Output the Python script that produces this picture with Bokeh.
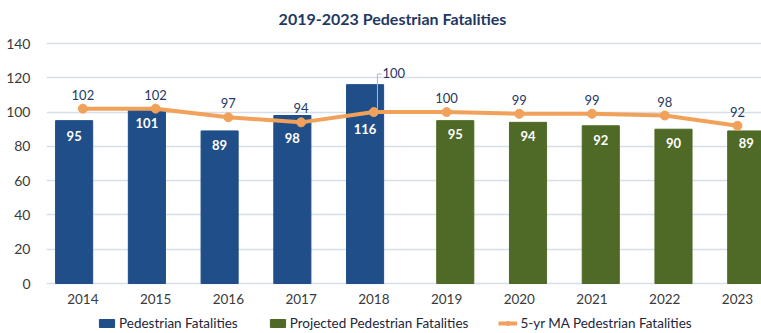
from bokeh.plotting import figure
from bokeh.models import (ColumnDataSource, Range1d, LabelSet, Legend, LegendItem,
                          FixedTicker, Label)
from bokeh.transform import dodge
from bokeh.embed import file_html
from bokeh.resources import INLINE
from bokeh.core.properties import value

# ---- data ----
years = ["2014", "2015", "2016", "2017", "2018", "2019", "2020", "2021", "2022", "2023"]
actual_years = ["2014", "2015", "2016", "2017", "2018"]
actual = [95, 101, 89, 98, 116]
projected_years = ["2019", "2020", "2021", "2022", "2023"]
projected = [95, 94, 92, 90, 89]
ma5 = [102, 102, 97, 94, 100, 100, 99, 99, 98, 92]
y_ticks = [0, 20, 40, 60, 80, 100, 120, 140]
title_text = "2019-2023 Pedestrian Fatalities"

# ---- styles ----
BLUE = "#1F4E88"
GREEN = "#4F6A26"
ORANGE = "#F2A15B"
NAVY = "#1F3864"
GRID = "#D5DEE9"
TICK = "#3A3A3A"
FONT = "Lato"
actual_label_drop = [-15, -13, -14, -22, -44]
proj_label_drop = [-13, -14, -14, -14, -12]

idx = {y: i for i, y in enumerate(years)}
ma_x = [idx[y] for y in years]

src_a = ColumnDataSource(dict(x=[idx[y] for y in actual_years], v=actual,
                              t=[str(v) for v in actual], off=actual_label_drop))
src_p = ColumnDataSource(dict(x=[idx[y] for y in projected_years], v=projected,
                              t=[str(v) for v in projected], off=proj_label_drop))
src_m = ColumnDataSource(dict(x=ma_x, v=ma5, t=[str(v) for v in ma5]))
i18 = idx["2018"]
src_ml = ColumnDataSource(dict(x=[x for x in ma_x if x != i18],
                               v=[v for x, v in zip(ma_x, ma5) if x != i18],
                               t=[str(v) for x, v in zip(ma_x, ma5) if x != i18]))
src_years = ColumnDataSource(dict(x=ma_x, y=[0] * len(years), t=years))

# frame: x from 46 to 761 px, y covers the whole height (title on top, year labels + legend below)
px_per_unit = 240 / 140
x_start, x_end = -0.5, 9.33
px_per_x = (761 - 46) / (x_end - x_start)
y_top = 140 + 43 / px_per_unit
p = figure(width=761, height=333, output_backend="svg", toolbar_location=None,
           x_range=Range1d(x_start, x_end), y_range=Range1d(-50 / px_per_unit, y_top),
           min_border_left=46, min_border_right=0, min_border_top=0, min_border_bottom=0)
p.outline_line_color = None
p.background_fill_color = "white"
p.border_fill_color = "white"

# axes
p.xaxis.visible = False
p.yaxis.ticker = FixedTicker(ticks=y_ticks)
ax = p.yaxis[0]
ax.axis_line_color = None
ax.major_tick_line_color = None
ax.minor_tick_line_color = None
ax.major_label_text_font = FONT
ax.major_label_text_font_size = "14px"
ax.major_label_text_color = TICK
ax.major_label_standoff = 10
p.xgrid.grid_line_color = None
p.ygrid.grid_line_color = GRID
p.ygrid.grid_line_width = 1.6

bw = 0.51
r_a = p.vbar(x=dodge("x", -0.12), top="v", width=bw, source=src_a, color=BLUE)
r_p = p.vbar(x=dodge("x", 0.12), top="v", width=bw, source=src_p, color=GREEN)

# leader line for 2018 moving-average label
m18 = ma5[i18]
lead_top = m18 + 38 / px_per_unit
p.segment(x0=[i18 + 0.05, i18 + 0.05], y0=[m18 + 1, lead_top],
          x1=[i18 + 0.05, i18 + 0.11], y1=[lead_top, lead_top],
          line_color="#A9BBCF", line_width=1)

r_l = p.line(x="x", y="v", source=src_m, line_color=ORANGE, line_width=4)
r_s = p.scatter(x="x", y="v", source=src_m, size=9, fill_color=ORANGE, line_color=ORANGE)

common = dict(text_font=value(FONT), text_font_size="13px", text_align="center",
              text_baseline="middle")
p.add_layout(LabelSet(x=dodge("x", -0.12), y="v", text="t", source=src_a, y_offset="off",
                      text_color="white", text_font_style="bold", **common))
p.add_layout(LabelSet(x=dodge("x", 0.12), y="v", text="t", source=src_p, y_offset="off",
                      text_color="white", text_font_style="bold", **common))
p.add_layout(LabelSet(x="x", y="v", text="t", source=src_ml, y_offset=14,
                      text_color=NAVY, **common))
p.add_layout(Label(x=i18, y=m18, text=str(m18), x_offset=20, y_offset=39,
                   text_color=NAVY, text_font=FONT, text_font_size="13px",
                   text_align="center", text_baseline="middle"))

# category (year) labels under the bars
p.add_layout(LabelSet(x="x", y="y", text="t", source=src_years, y_offset=-15,
                      text_color=TICK, text_font=value(FONT), text_font_size="13.5px",
                      text_align="center", text_baseline="middle"))

# chart title
p.add_layout(Label(x=x_start + (392 - 46) / px_per_x, y=y_top, y_offset=-18, text=title_text,
                   text_color=NAVY, text_font=FONT, text_font_size="16px",
                   text_font_style="bold", text_align="center", text_baseline="middle"))

legend = Legend(items=[
    LegendItem(label="Pedestrian Fatalities", renderers=[r_a]),
    LegendItem(label="Projected Pedestrian Fatalities", renderers=[r_p]),
    LegendItem(label="5-yr MA Pedestrian Fatalities", renderers=[r_l, r_s]),
], orientation="horizontal", location=(51, 2), border_line_color=None,
    background_fill_alpha=0, padding=0, margin=0, spacing=30, label_standoff=3,
    glyph_width=19, glyph_height=10, label_height=10,
    label_text_font=FONT, label_text_font_size="13.5px", label_text_color="#22263A",
    label_text_baseline="middle")
p.add_layout(legend)

open("out.html", "w").write(file_html(p, INLINE))
